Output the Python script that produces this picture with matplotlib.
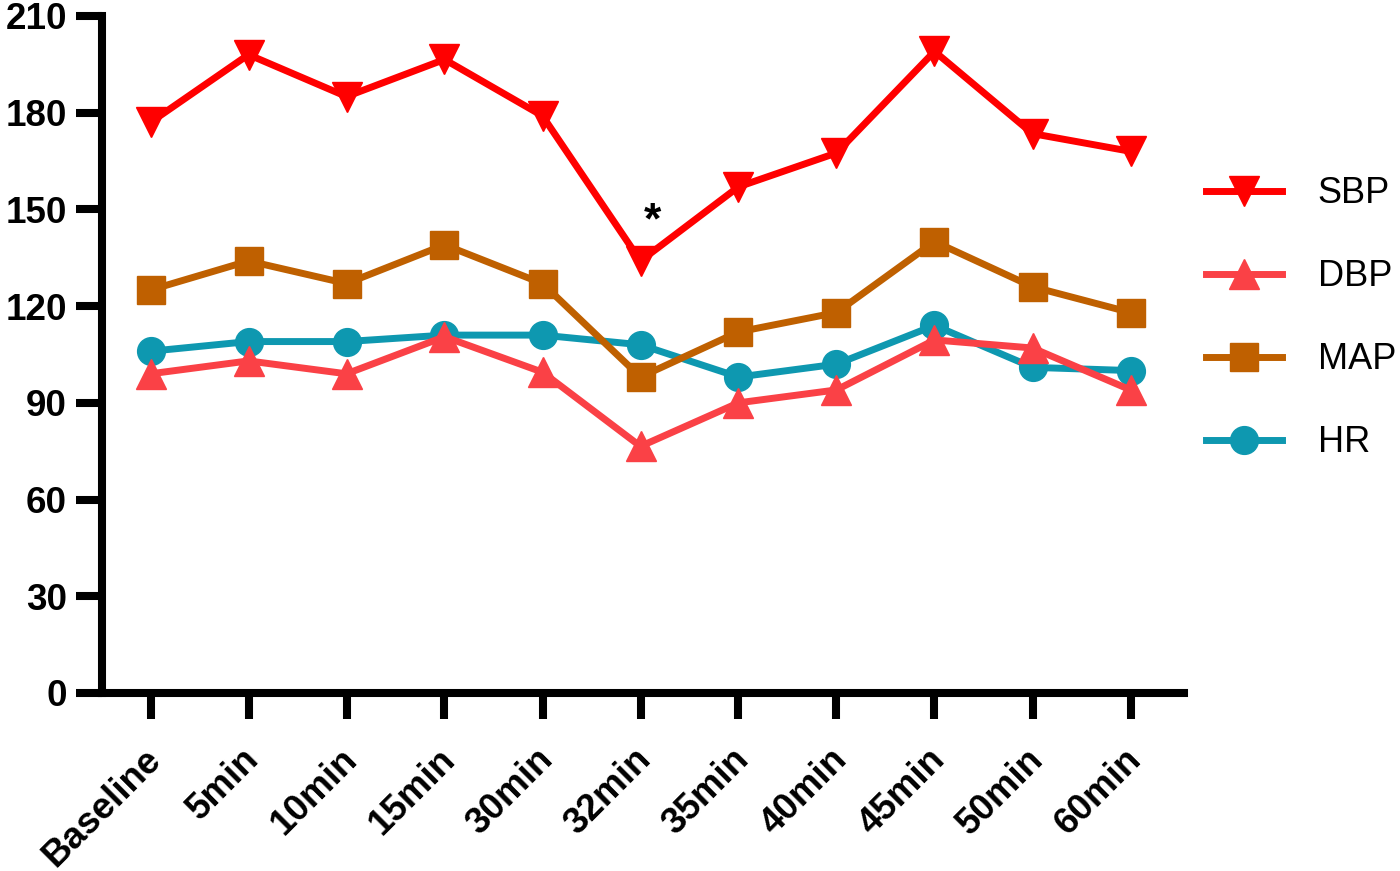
import matplotlib.pyplot as plt
import numpy as np
from matplotlib.transforms import ScaledTranslation

# time points and measured values
times = ["Baseline", "5min", "10min", "15min", "30min", "32min",
         "35min", "40min", "45min", "50min", "60min"]
sbp = [177, 198, 185, 196.5, 179, 134, 157, 167.5, 199, 173.5, 168]
dbp = [99, 103, 99, 110.5, 99.5, 76.5, 90, 94, 109.5, 107, 94]
map_ = [125, 134, 127, 139, 127, 98, 112, 118, 140, 126, 118]
hr = [106, 109, 109, 111, 111, 108, 98, 102, 114, 101, 100]
yticks = [0, 30, 60, 90, 120, 150, 180, 210]

plt.rcParams['font.family'] = ['Liberation Sans', 'DejaVu Sans']

fig = plt.figure(figsize=(14, 8.71), dpi=100)
ax = fig.add_axes([0.0725, 0.2044, 0.7735, 0.7773])

x = np.arange(len(times))
lw = 5
h_hr, = ax.plot(x, hr, color="#0E98B0", marker="o", markersize=20, linewidth=lw, label="HR", zorder=3)
h_map, = ax.plot(x, map_, color="#BF6000", marker="s", markersize=20, linewidth=lw, label="MAP", zorder=4)
h_dbp, = ax.plot(x, dbp, color="#FA4146", marker="^", markersize=21, linewidth=lw, label="DBP", zorder=5)
h_sbp, = ax.plot(x, sbp, color="#FF0000", marker="v", markersize=21, linewidth=lw, label="SBP", zorder=6)

# significance mark
ax.text(5.12, 146, "*", fontsize=32, fontweight="bold", ha="center", va="center")

ax.set_xlim(-0.5, 10.55)
ax.set_ylim(0, 210)
ax.set_yticks(yticks)
ax.set_xticks(x)
ax.set_xticklabels(times, rotation=45, ha="right", rotation_mode="anchor")

for s in ["top", "right"]:
    ax.spines[s].set_visible(False)
for s in ["left", "bottom"]:
    ax.spines[s].set_linewidth(5.8)
    ax.spines[s].set_capstyle("projecting")

ax.tick_params(axis="both", length=19, width=5.8, direction="out")
ax.tick_params(axis="y", pad=6)
ax.tick_params(axis="x", pad=14)
shift = ScaledTranslation(-7 / 100, -3 / 100, fig.dpi_scale_trans)
for lab in ax.get_xticklabels():
    lab.set_transform(lab.get_transform() + shift)
for lab in ax.get_xticklabels() + ax.get_yticklabels():
    lab.set_fontsize(26.5)
    lab.set_fontweight("bold")

leg = fig.legend(handles=[h_sbp, h_dbp, h_map, h_hr], loc="upper left",
                 bbox_to_anchor=(0.838, 0.835), frameon=False, fontsize=26,
                 handlelength=2.1, handletextpad=1.0, labelspacing=1.33)

fig.savefig("out.png", dpi=100)
